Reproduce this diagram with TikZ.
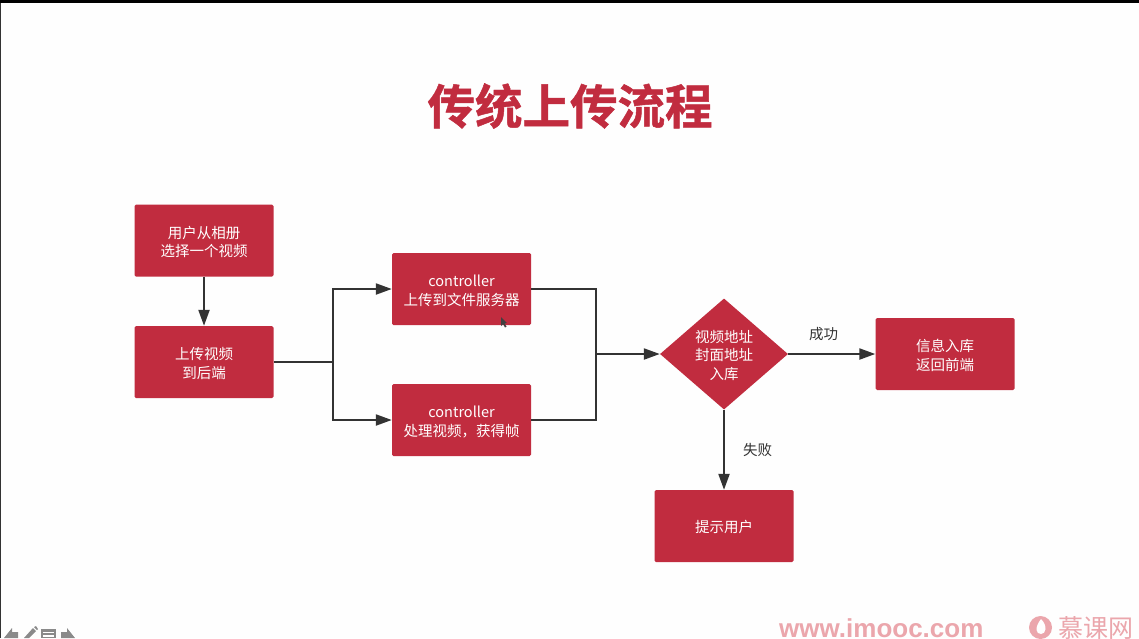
\documentclass[tikz,border=0pt]{standalone}
\usepackage{fontspec}
\usetikzlibrary{arrows.meta,shapes.geometric,calc}
\setmainfont{Noto Sans CJK SC}
\newfontfamily\titlefont[FakeBold=1]{Noto Sans CJK SC Bold}
\newfontfamily\markfont{Liberation Sans Bold}
\definecolor{boxred}{HTML}{C12C3F}
\definecolor{linegray}{HTML}{333333}
\definecolor{wmred}{HTML}{EBA6AC}
\definecolor{icongray}{HTML}{8A8A8A}
\newcommand{\boxtxt}[1]{\raisebox{-6.8pt}[0pt][0pt]{\begin{tabular}{@{}c@{}}#1\end{tabular}}}
\tikzset{
  redbox/.style={draw=none,fill=boxred,rounded corners=1.5pt,minimum width=139pt,minimum height=72pt,
    text=white,align=center,inner sep=0pt,font=\fontsize{14.5pt}{18.5pt}\selectfont},
  reddiamond/.style={draw=none,fill=boxred,diamond,aspect=1.15,minimum width=128pt,minimum height=111pt,
    text=white,align=center,inner sep=0pt,font=\fontsize{14.5pt}{18.5pt}\selectfont},
  conn/.style={draw=linegray,line width=2.2pt},
  arrowconn/.style={conn,-{Triangle[length=16pt,width=11pt]}},
  lab/.style={text=linegray,inner sep=0pt,font=\fontsize{14.5pt}{17pt}\selectfont},
  icon/.style={fill=icongray,draw=none},
}
\begin{document}
\begin{tikzpicture}[x=1pt,y=-1pt]
\useasboundingbox (0,0) rectangle (1139,638);
\fill[white!99.5!black] (0,0) rectangle (1139,638);
\fill[black] (0,0) rectangle (1139,3);
\fill[black!80] (0,3) rectangle (1,638);

\node[text=boxred,inner sep=0pt,font=\titlefont\fontsize{47.5pt}{52pt}\selectfont] (title) at (570,106) {传统上传流程};

\node[redbox] (pick) at (204,240.5) {\boxtxt{用户从相册\\选择一个视频}};
\node[redbox] (upload) at (204,362) {\boxtxt{上传视频\\到后端}};
\node[redbox] (ctrlA) at (461.5,289) {\boxtxt{controller\\上传到文件服务器}};
\node[redbox] (ctrlB) at (461.5,420) {\boxtxt{controller\\处理视频，获得帧}};
\node[reddiamond] (store) at (724,354) {\boxtxt{视频地址\\封面地址\\入库}};
\node[redbox] (ok) at (945,354) {\boxtxt{信息入库\\返回前端}};
\node[redbox] (tip) at (724,526) {\boxtxt{提示用户}};

\coordinate (split) at (333,362);
\coordinate (merge) at (596,354);

\draw[arrowconn] (pick) -- (upload);
\draw[conn] (upload) -- (split);
\draw[arrowconn] (split) |- (ctrlA);
\draw[arrowconn] (split) |- (ctrlB);
\draw[conn] (ctrlA) -| (merge);
\draw[conn] (ctrlB) -| (merge);
\draw[arrowconn] (merge) -- (store);
\draw[arrowconn] (store) -- (ok);
\draw[arrowconn] (store) -- (tip);

\node[lab] (okl) at (823.5,334) {成功};
\node[lab] (fail) at (757.5,450) {失败};

% mouse pointer
\fill[black!75] (501,317) -- (501,326) -- (503,324) -- (505,327.5) -- (506.5,326.5) -- (504.5,323.5) -- (507,323) -- cycle;

% player controls
\fill[icon] (4,638) -- (12,628) -- (12,632) -- (18,632) -- (18,638) -- cycle;
\fill[icon] (24,638) -- (33,628) -- (36,631) -- (29,638) -- cycle;
\fill[icon] (34,627) -- (36,626) -- (38,629) -- (37,630) -- cycle;
\fill[icon] (41,629) rectangle (56,638);
\fill[white] (43,631.5) rectangle (54,633);
\fill[white] (43,635) rectangle (54,636.5);
\fill[icon] (61,632) -- (67,632) -- (67,628) -- (75,638) -- (61,638) -- cycle;

% watermark
\node[anchor=west,text=wmred,inner sep=0pt,font=\markfont\fontsize{26pt}{27pt}\selectfont] (www) at (779,628) {www.imooc.com};
\fill[wmred] (1040.5,627.5) circle (11.5pt);
\fill[white] (1041,619) .. controls (1048,626) and (1046,634) .. (1041,634) .. controls (1036,634) and (1034,628) .. (1041,619) -- cycle;
\node[anchor=west,text=wmred,inner sep=0pt,font=\fontsize{25pt}{26pt}\selectfont] (brand) at (1058,627.5) {慕课网};
\end{tikzpicture}
\end{document}
